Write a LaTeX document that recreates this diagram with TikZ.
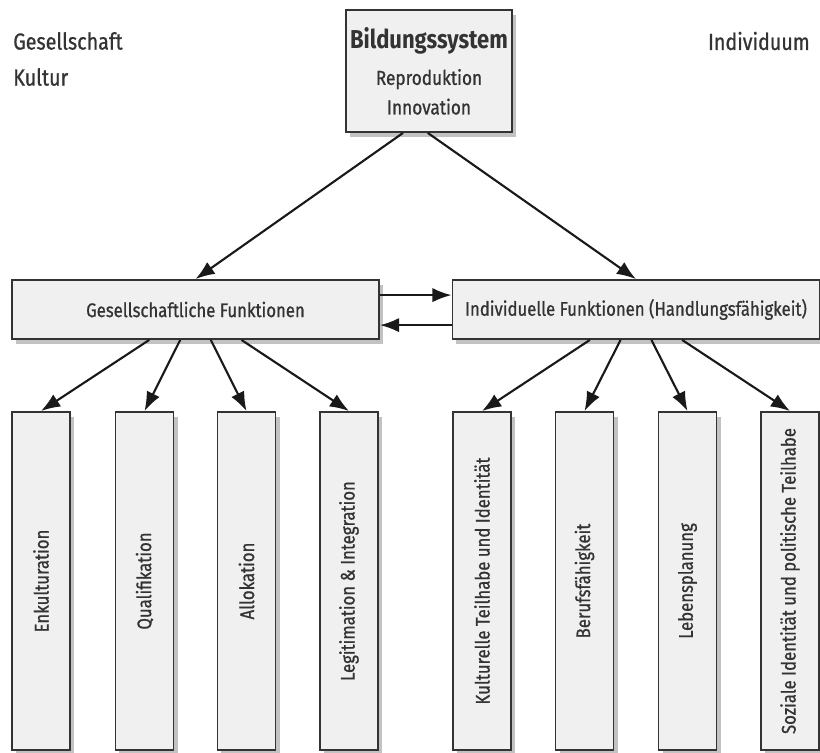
\documentclass[tikz,border=0pt]{standalone}
\usepackage{fontspec}
\setmainfont{Fira Sans}[FakeStretch=0.85, UprightFeatures={FakeBold=0.8}]
\usetikzlibrary{arrows.meta,shadows}

\tikzset{
  box/.style={draw=black!80, line width=1.3pt, fill=black!6, text=black!80,
    drop shadow={shadow xshift=0.1cm, shadow yshift=-0.12cm, fill=black!40, opacity=0.6},
    inner sep=0pt},
  func/.style={box, minimum width=9.175cm, minimum height=1.475cm,
    font=\fontsize{14}{16}\selectfont},
  col/.style={box, minimum width=1.45cm, minimum height=8.45cm,
    font=\fontsize{14}{16}\selectfont},
  side/.style={text=black!80, inner sep=0pt, font=\fontsize{16.5}{18}\selectfont},
}

\begin{document}
\begin{tikzpicture}[x=0.025cm, y=-0.025cm, >={Latex[length=0.48cm,width=0.36cm]}]
    \useasboundingbox (0,0) rectangle (820,752);

    % top
    \node[box, minimum width=4.15cm, minimum height=3.05cm, align=center,
          font=\fontsize{14.4}{21}\selectfont] (bild) at (429,71)
          {{\fontsize{18.4}{20}\selectfont\bfseries Bildungssystem}\\[5pt] Reproduktion\\ Innovation};
    \node[side, anchor=west] (ges)  at (13,41)  {Gesellschaft};
    \node[side, anchor=west] (kul)  at (13,77)  {Kultur};
    \node[side, anchor=east] (indi) at (810,41) {Individuum};

    % middle
    \node[func] (gf)  at (195.5,309.5) {Gesellschaftliche Funktionen};
    \node[func] (ind) at (636,309.5)   {Individuelle Funktionen (Handlungsfähigkeit)};

    % bottom
    \node[col] (enk) at (41,581)    {\rotatebox{90}{Enkulturation}};
    \node[col] (qua) at (144.5,581) {\rotatebox{90}{Qualifikation}};
    \node[col] (all) at (246.5,581) {\rotatebox{90}{Allokation}};
    \node[col] (leg) at (349,581)   {\rotatebox{90}{Legitimation \& Integration}};
    \node[col] (kut) at (482,581)   {\rotatebox{90}{Kulturelle Teilhabe und Identität}};
    \node[col] (ber) at (584.5,581) {\rotatebox{90}{Berufsfähigkeit}};
    \node[col] (leb) at (687.5,581) {\rotatebox{90}{Lebensplanung}};
    \node[col] (soz) at (790,581)   {\rotatebox{90}{Soziale Identität und politische Teilhabe}};

    \path [->, line width=1.5pt, color=black!90]
    ([xshift=-0.65cm]bild.south)  edge (gf.north)
    ([xshift=-0.03cm]bild.south)  edge (ind.north)
    ([yshift=0.36cm]gf.east)      edge ([yshift=0.36cm]ind.west)
    ([yshift=-0.39cm]ind.west)    edge ([yshift=-0.39cm]gf.east)
    (gf)  edge (enk.north)
          edge (qua.north)
          edge (all.north)
          edge (leg.north)
    (ind) edge (kut.north)
          edge (ber.north)
          edge (leb.north)
          edge (soz.north);

\end{tikzpicture}
\end{document}
